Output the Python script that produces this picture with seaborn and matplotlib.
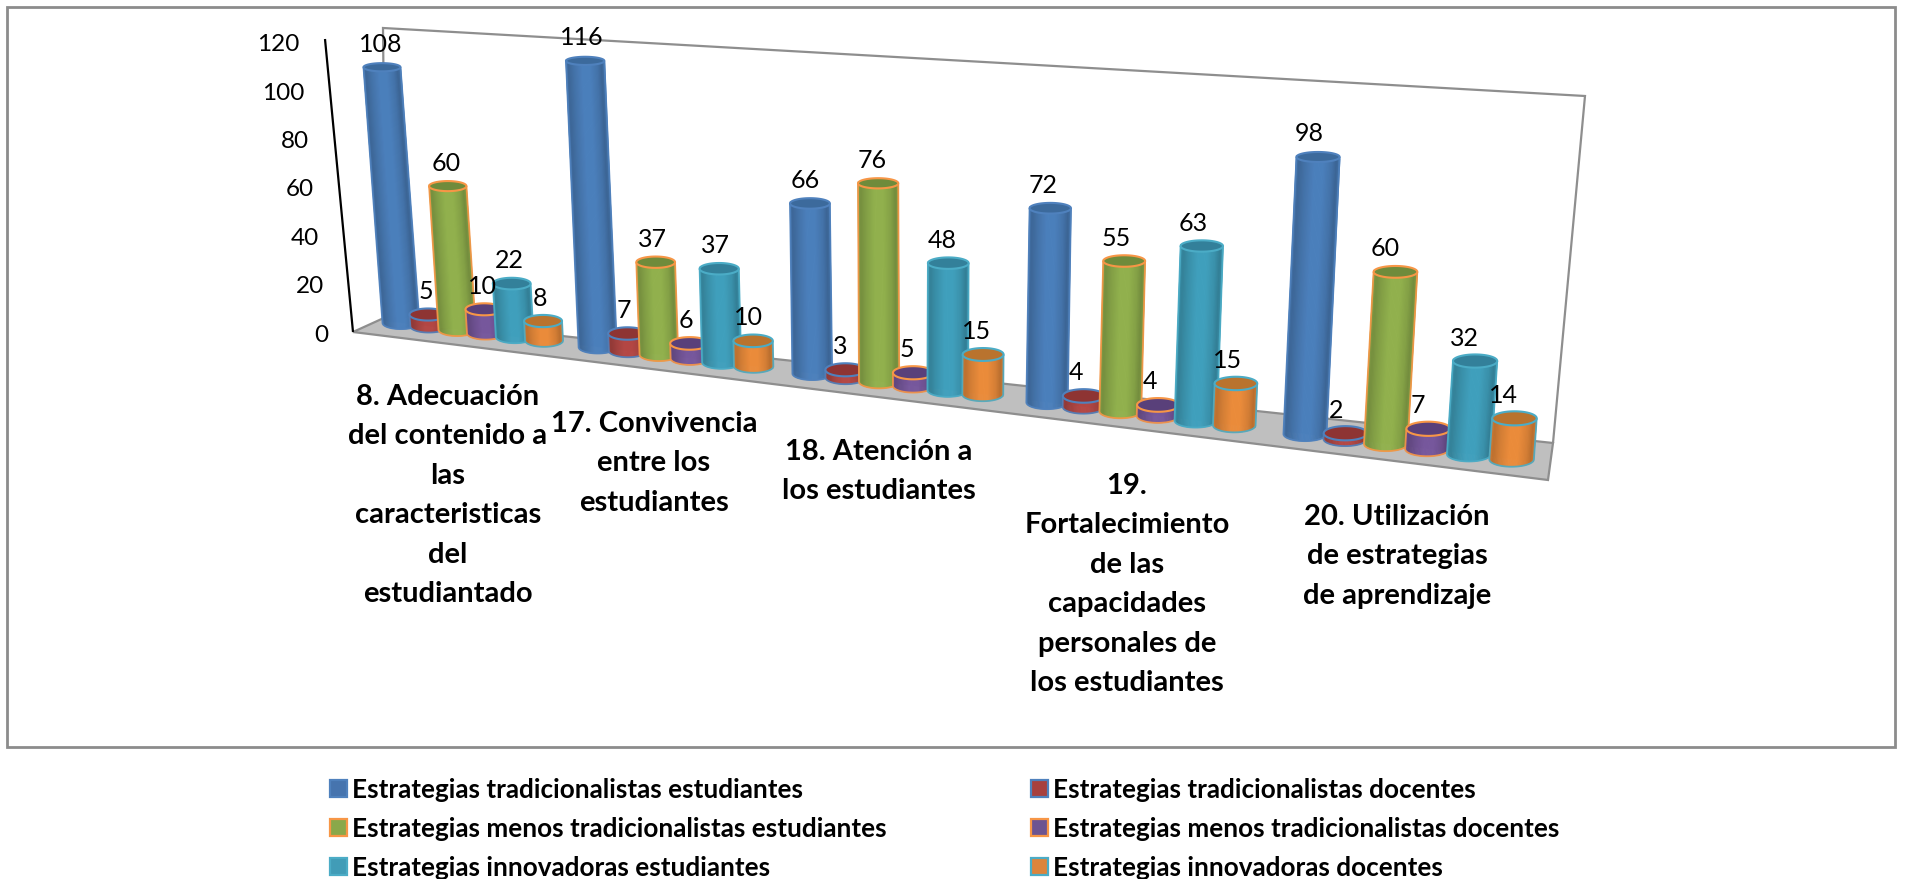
import numpy as np
import pandas as pd
import matplotlib
matplotlib.use("Agg")
import matplotlib.pyplot as plt
import seaborn as sns
from matplotlib.collections import PolyCollection
from matplotlib.patches import Patch, Polygon, Rectangle
from matplotlib.transforms import Affine2D, Transform

# ---------- data ----------
categories = [
    "8. Adecuación\ndel contenido a\nlas\ncaracteristicas\ndel\nestudiantado",
    "17. Convivencia\nentre los\nestudiantes",
    "18. Atención a\nlos estudiantes",
    "19.\nFortalecimiento\nde las\ncapacidades\npersonales de\nlos estudiantes",
    "20. Utilización\nde estrategias\nde aprendizaje",
]
series_names = [
    "Estrategias tradicionalistas estudiantes",
    "Estrategias tradicionalistas docentes",
    "Estrategias menos tradicionalistas estudiantes",
    "Estrategias menos tradicionalistas docentes",
    "Estrategias innovadoras estudiantes",
    "Estrategias innovadoras docentes",
]
trad_est = [108, 116, 66, 72, 98]
trad_doc = [5, 7, 3, 4, 2]
menos_est = [60, 37, 76, 55, 60]
menos_doc = [10, 6, 5, 4, 7]
innov_est = [22, 37, 48, 63, 32]
innov_doc = [8, 10, 15, 15, 14]
y_ticks = [0, 20, 40, 60, 80, 100, 120]

all_series = [trad_est, trad_doc, menos_est, menos_doc, innov_est, innov_doc]

# ---------- style ----------
fill_cols = ["#4A7DB8", "#B04643", "#8FAE4C", "#75569A", "#3F9DB9", "#E6893A"]
top_cols = ["#3C6A9C", "#8E3433", "#6F8B3B", "#59407A", "#33809A", "#B9732E"]
edge_cols = ["#4F81BD", "#4F81BD", "#F79646", "#F79646", "#4BACC6", "#4BACC6"]
legend_cols = ["#4674AE", "#A8403E", "#8AA84A", "#6D5491", "#419CB7", "#DC843C"]

W, H = 1905, 879
sns.set_theme(style="white")
plt.rcParams["font.family"] = ["Lato", "DejaVu Sans"]
plt.rcParams["text.color"] = "black"

fig = plt.figure(figsize=((W + 0.01) / 100, (H + 0.01) / 100), dpi=100, facecolor="white")
ax = fig.add_axes([0, 0, 1, 1])
ax.set_axis_off()

px = Affine2D().scale(1, -1).translate(0, H)  # picture pixels, y downwards

# ---------- perspective of the plot plane ----------
X0, XSPAN, Y0, YSLOPE, RATIO = 401.0, 904.0, 323.0, 0.1228, 1.198


def plane_base(xd):
    s = np.asarray(xd, float) / 4.0
    t = s / (s + (1 - s) * RATIO)
    x = X0 + XSPAN * t
    return x, Y0 + YSLOPE * (x - X0)


def plane(xd, v):
    x, y = plane_base(xd)
    scale = 0.995 * (2.38 + 0.00051 * (x - X0))
    lean = -0.176 + 0.000342 * (x - X0)
    return x + lean * v, y - scale * v


class PlaneTransform(Transform):
    input_dims = output_dims = 2
    is_separable = False
    has_inverse = False

    def transform_non_affine(self, values):
        values = np.asarray(values, float)
        x, y = plane(values[:, 0], values[:, 1])
        return np.column_stack([x, H - y])


proj = PlaneTransform()

# ---------- frame, wall, floor ----------
ax.add_patch(Rectangle((7, 7), 1888, 740, fc="white", ec="#8C8C8C", lw=2,
                       transform=px, clip_on=False, zorder=0))
ax.add_patch(Polygon([(353, 332), (386, 317), (1553, 443), (1548, 480)], closed=True,
                     fc="#BFBFBF", ec="#8E8E8E", lw=1.6, transform=px, clip_on=False, zorder=1))
ax.add_patch(Polygon([(386, 317), (383, 28), (1585, 96), (1553, 443)], closed=False,
                     fc="none", ec="#8E8E8E", lw=1.6, transform=px, clip_on=False, zorder=1))
ax.add_patch(Polygon([(325, 39), (353, 332)], closed=False, fc="none", ec="black", lw=1.6,
                     transform=px, clip_on=False, zorder=2))

# ---------- bars, placed by seaborn and then carried into the plane ----------
df = pd.DataFrame({
    "categoria": [c for _ in series_names for c in categories],
    "serie": [n for n in series_names for _ in categories],
    "valor": [v for s in all_series for v in s],
})
sns.barplot(data=df, x="categoria", y="valor", hue="serie", order=categories,
            hue_order=series_names, width=6 / 6.8, gap=0, legend=False, ax=ax,
            palette=fill_cols, saturation=1)
ax.set_autoscale_on(False)
ax.set_axis_off()

first = ax.containers[0][0]
x_origin = first.get_x() + first.get_width() / 2

profile_f = [-1.0, -0.85, -0.55, -0.15, 0.25, 0.65, 0.88, 1.0]
profile_b = [0.92, 0.82, 0.92, 1.02, 1.02, 0.92, 0.80, 0.90]
F = np.linspace(-1, 1, 37)
z = 10

for si, container in enumerate(ax.containers):
    rgb = np.array(matplotlib.colors.to_rgb(fill_cols[si]))
    for bar in container:
        xc = bar.get_x() + bar.get_width() / 2 - x_origin
        v = bar.get_height()
        bx, by = plane(xc, 0.0)
        tx, ty = plane(xc, v)
        d = 37 + 0.0068 * (bx - X0)
        rad = d / 2
        hb = d * 0.33 / 2
        ht = d * (0.33 - 0.001 * v) / 2

        # the bar itself, as the solid core of the cylinder
        xl = (plane_base(xc + 0.01)[0] - plane_base(xc - 0.01)[0]) / 0.02
        w = d / xl
        bar.set_x(xc - w / 2)
        bar.set_width(w)
        bar.set_transform(proj)
        bar.set_clip_on(False)
        bar.set_edgecolor("none")
        bar.set_zorder(z)

        # shading of the side, with the rounded foot and the rounded head
        root = np.sqrt(np.clip(1 - F ** 2, 0, 1))
        polys, colors = [], []
        for a in range(len(F) - 1):
            polys.append([
                (bx + F[a] * rad, by + root[a] * hb),
                (bx + F[a + 1] * rad, by + root[a + 1] * hb),
                (tx + F[a + 1] * rad, ty + root[a + 1] * ht),
                (tx + F[a] * rad, ty + root[a] * ht),
            ])
            b = np.interp((F[a] + F[a + 1]) / 2, profile_f, profile_b)
            colors.append(np.clip(rgb * b, 0, 1))
        ax.add_collection(PolyCollection(polys, facecolors=colors, edgecolors=colors, linewidths=0.5,
                                         transform=px, clip_on=False, zorder=z + 0.1), autolim=False)

        # outline of the side
        ang = np.linspace(np.pi, 0, 41)
        outline = np.column_stack([bx + rad * np.cos(ang), by + hb * np.sin(ang)])
        outline = np.vstack([[(tx - rad, ty)], outline, [(tx + rad, ty)]])
        ax.add_patch(Polygon(outline, closed=False, fc="none", ec=edge_cols[si], lw=1.3, alpha=0.9,
                             transform=px, clip_on=False, zorder=z + 0.2))

        # head
        ang = np.linspace(0, 2 * np.pi, 61)
        head = np.column_stack([tx + rad * np.cos(ang), ty + ht * np.sin(ang)])
        ax.add_patch(Polygon(head, closed=True, fc=top_cols[si], ec=edge_cols[si], lw=1.5,
                             transform=px, clip_on=False, zorder=z + 0.3))
        z += 1

        # value
        ax.text(tx - 1.5 - 0.0085 * (bx - X0), ty - 23, f"{v:.0f}", transform=px, ha="center", va="center",
                fontsize=18, color="black", zorder=500, clip_on=False)

# ---------- value axis labels ----------
for tick in y_ticks:
    ax.text(328.5 - 0.2383 * tick, 335 - 2.417 * tick, str(tick), transform=px, ha="right",
            va="center", fontsize=17.5, color="black", zorder=500, clip_on=False)

# ---------- category labels ----------
label_anchor = [(448, 396), (654, 423), (879, 451), (1127, 485), (1397, 516)]
for text, (lx, ly) in zip(categories, label_anchor):
    ax.text(lx, ly - 12, text, transform=px, ha="center", va="top", fontsize=21,
            fontweight="bold", linespacing=1.64, color="black", zorder=500, clip_on=False)

# ---------- legend ----------
order = [0, 2, 4, 1, 3, 5]
handles = [Patch(facecolor=legend_cols[i], edgecolor=edge_cols[i], linewidth=1.6) for i in order]
labels = [series_names[i] for i in order]
ax.legend(handles, labels, ncol=2, loc="upper left", bbox_to_anchor=(330, 777.5), bbox_transform=px,
          frameon=False, borderpad=0, borderaxespad=0, handlelength=0.65, handleheight=0.65,
          handletextpad=0.2, labelspacing=0.58, columnspacing=5.5,
          prop={"family": "Lato", "weight": "bold", "size": 18.85})

fig.savefig("out.png", dpi=100, facecolor="white")
